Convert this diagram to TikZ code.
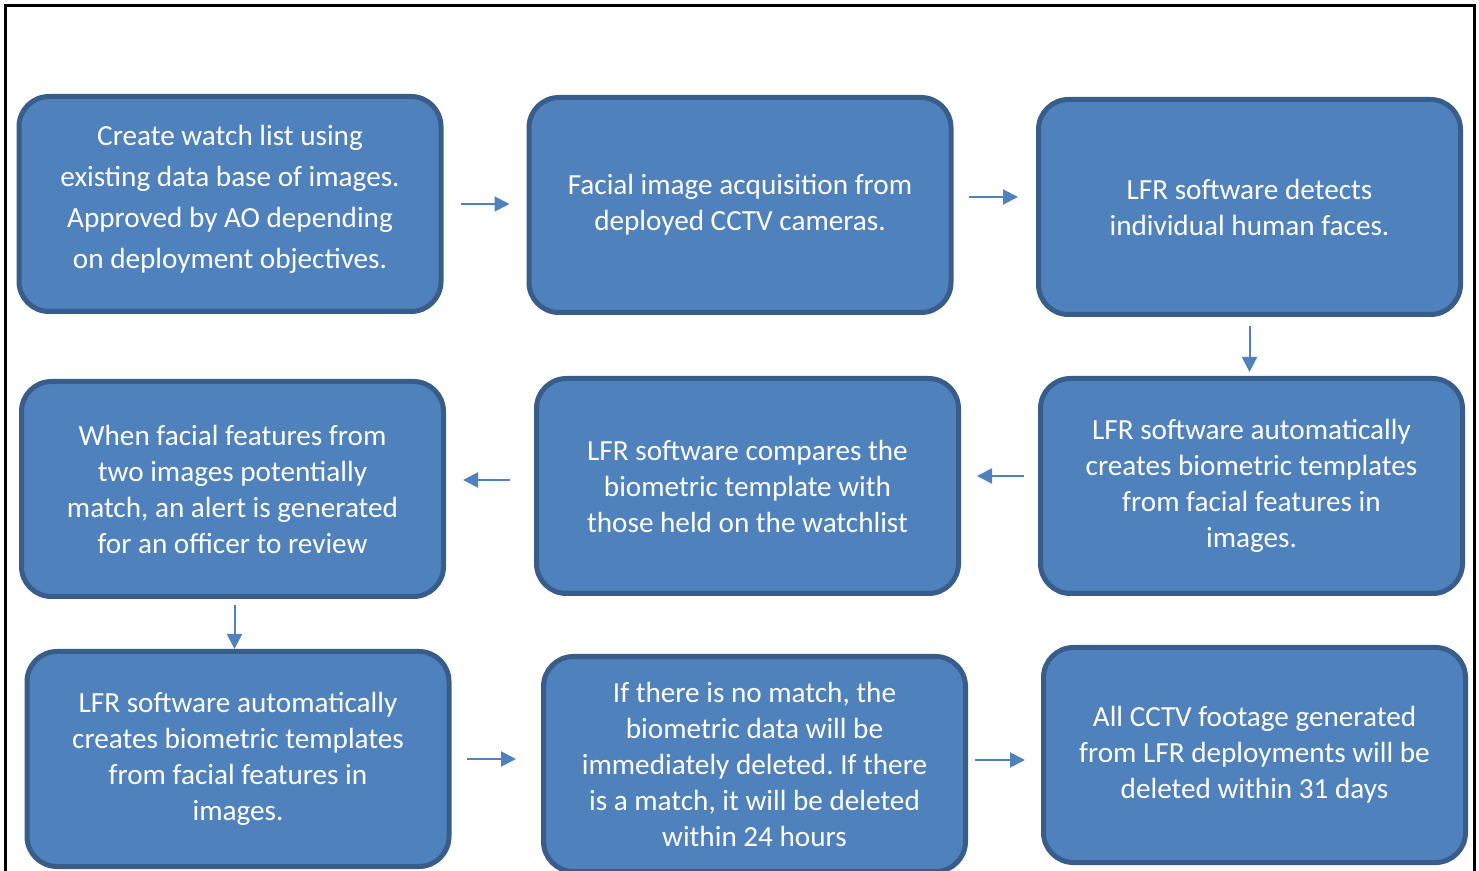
\documentclass[tikz,border=0pt]{standalone}
\usepackage{fontspec}
\setmainfont{Carlito}
\usetikzlibrary{arrows.meta}
\frenchspacing

\definecolor{myblue}{RGB}{79,129,189}
\definecolor{mydarkblue}{RGB}{56,93,138}

\begin{document}
\begin{tikzpicture}[x=0.5pt,y=-0.5pt,
  stage/.style={draw=mydarkblue,fill=myblue,line width=2.5pt,rounded corners=15pt,
    minimum width=211pt,minimum height=107.5pt,align=center,text=white,
    font=\fontsize{14.6}{18}\selectfont},
  flow/.style={myblue,line width=1pt,-{Triangle[length=7.5pt,width=7.5pt]}}]
 \useasboundingbox (0,0) rectangle (1479,871);
  \draw[line width=1.5pt] (5.5,871) -- (5.5,6) -- (1474,6) -- (1474,871);

  \node[stage,font=\fontsize{14.6}{20.5}\selectfont,text depth=7pt] (watch) at (230,204)
    {Create watch list using\\existing data base of images.\\Approved by AO depending\\on deployment objectives.};
  \node[stage] (acquire) at (740,205)
    {Facial image acquisition from\\deployed CCTV cameras.};
  \node[stage] (detect)  at (1249.5,207)
    {LFR software detects\\individual human faces.};
  \node[stage] (template) at (1251.5,486)
    {LFR software automatically\\creates biometric templates\\from facial features in\\images.};
  \node[stage] (compare) at (747.5,486)
    {LFR software compares the\\biometric template with\\those held on the watchlist};
  \node[stage] (alert)   at (232.5,489)
    {When facial features from\\two images potentially\\match, an alert is generated\\for an officer to review};
  \node[stage] (templatetwo) at (238,759)
    {LFR software automatically\\creates biometric templates\\from facial features in\\images.};
  \node[stage] (delete)  at (754.5,764)
    {If there is no match, the\\biometric data will be\\immediately deleted. If there\\is a match, it will be deleted\\within 24 hours};
  \node[stage] (footage) at (1254.5,755)
    {All CCTV footage generated\\from LFR deployments will be\\deleted within 31 days};

  \draw[flow,shorten <=8.5pt,shorten >=8.5pt] (watch.east)   -- (watch.east -| acquire.west);
  \draw[flow,shorten <=7.5pt,shorten >=9pt]   ([yshift=4pt]acquire.east) -- ([yshift=4pt]acquire.east -| detect.west);
  \draw[flow,shorten <=4.5pt,shorten >=2pt]   (detect.south)  -- (detect.south |- template.north);
  \draw[flow,shorten <=7pt,shorten >=8pt]     ([yshift=5pt]template.west) -- ([yshift=5pt]template.west -| compare.east);
  \draw[flow,shorten <=12pt,shorten >=8.5pt]  ([yshift=3pt]compare.west) -- ([yshift=3pt]compare.west -| alert.east);
  \draw[flow,shorten <=3pt,shorten >=0pt]     ([xshift=1pt]alert.south) -- ([xshift=1pt]alert.south |- templatetwo.north);
  \draw[flow,shorten <=7.5pt,shorten >=12.5pt] (templatetwo.east) -- (templatetwo.east -| delete.west);
  \draw[flow,shorten <=3.5pt,shorten >=8pt]   ([yshift=2pt]delete.east) -- ([yshift=2pt]delete.east -| footage.west);

\end{tikzpicture}
\end{document}
